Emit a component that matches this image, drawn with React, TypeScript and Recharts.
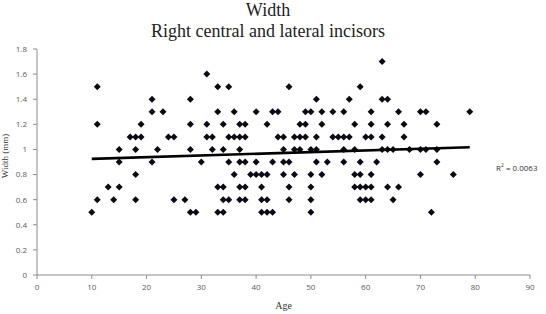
import React from 'react';
import { ScatterChart, Scatter, XAxis, YAxis, Label } from 'recharts';

// age -> widths measured at that age
const ages = [10, 11, 13, 14, 15, 17, 18, 19, 21, 22, 23, 24, 25, 27, 28, 29, 30, 31, 32, 33, 34, 35, 36, 37, 38, 39, 40, 41, 42, 43, 44, 45, 46, 47, 48, 49, 50, 51, 52, 53, 54, 55, 56, 57, 58, 59, 60, 61, 62, 63, 64, 65, 66, 67, 68, 70, 71, 72, 73, 76, 79];
const widths = [
    [0.5], [1.5, 1.2, 0.6], [0.7], [0.6], [1.0, 0.9, 0.7], [1.1], [1.1, 1.0, 0.8, 0.6], [1.2, 1.1],
    [1.4, 1.3, 0.9], [1.0], [1.3], [1.1], [1.1, 0.6], [0.6], [1.4, 1.2, 1.0, 0.5], [0.5], [0.9],
    [1.6, 1.2, 1.1], [1.1, 1.0], [1.5, 1.3, 0.7, 0.5], [1.2, 1.0, 0.7, 0.6, 0.5], [1.5, 1.1, 0.9, 0.6],
    [1.3, 1.1, 0.8], [1.2, 1.1, 1.0, 0.9, 0.7, 0.6], [1.2, 1.1, 0.9, 0.7, 0.6], [0.8], [1.3, 0.9, 0.8],
    [0.8, 0.7, 0.6, 0.5], [1.2, 0.8, 0.6, 0.5], [1.3, 0.9, 0.5], [1.3, 1.1], [1.1, 1.0, 0.9, 0.8],
    [1.5, 0.9, 0.7, 0.6], [1.1, 1.0, 0.8], [1.2, 1.1, 1.0], [1.3, 1.2, 1.1], [1.3, 1.0, 0.8, 0.7, 0.6, 0.5],
    [1.4, 1.1, 1.0, 0.9], [1.3, 1.2, 0.8], [0.9], [1.3, 1.1], [1.1], [1.3, 1.1, 1.0, 0.9], [1.4, 1.1],
    [1.2, 1.0, 0.8, 0.7], [1.5, 0.9, 0.8, 0.7, 0.6], [1.1, 0.7, 0.6], [1.3, 1.2, 1.1, 0.8, 0.7, 0.6],
    [0.9], [1.7, 1.4, 1.1, 1.0], [1.4, 1.2, 1.0, 0.7], [1.0, 0.6], [1.3, 0.7], [1.2, 1.1], [1.0],
    [1.3, 1.0, 0.8], [1.3, 1.0], [0.5], [1.2, 1.0, 0.9], [0.8], [1.3],
];
const trendAges = [10, 79];
const trendWidths = [0.925, 1.018];
const xTicks = [0, 10, 20, 30, 40, 50, 60, 70, 80, 90];
const yTicks = [0, 0.2, 0.4, 0.6, 0.8, 1, 1.2, 1.4, 1.6, 1.8];

const points = ages.flatMap((age, i) => widths[i].map((w) => ({ age, width: w })));
const trend = trendAges.map((age, i) => ({ age, width: trendWidths[i] }));

const Diamond = (props: any) => {
    const { cx, cy } = props;
    const r = 3.5;
    return <polygon points={`${cx},${cy - r} ${cx + r},${cy} ${cx},${cy + r} ${cx - r},${cy}`} fill="#0a0a14" />;
};

const tickStyle = { fontSize: 8, fill: '#595959', fontFamily: 'Open Sans, sans-serif' };

const App: React.FC = () => {
    return (
        <div style={{ position: 'absolute', left: 0, top: 0, width: 546, height: 314, background: '#fff', overflow: 'hidden' }}>
            <div style={{ position: 'absolute', left: 0, width: 536, top: 0, textAlign: 'center', fontFamily: 'Liberation Serif, serif', fontSize: 18, lineHeight: 'normal', color: '#222' }}>
                <div>Width</div>
                <div>Right central and lateral incisors</div>
            </div>
            <ScatterChart width={546} height={314} margin={{ top: 49, right: 16, left: 7, bottom: 19 }}>
                <XAxis
                    type="number"
                    dataKey="age"
                    domain={[0, 90]}
                    ticks={xTicks}
                    tick={tickStyle}
                    tickSize={4}
                    tickMargin={5}
                    stroke="#8c8c8c"
                    height={20}
                    allowDataOverflow
                >
                    <Label value="Age" position="insideBottom" offset={-14} style={{ fontSize: 10, fill: '#333', fontFamily: 'Liberation Serif, serif' }} />
                </XAxis>
                <YAxis
                    type="number"
                    dataKey="width"
                    domain={[0, 1.8]}
                    ticks={yTicks}
                    tick={tickStyle}
                    tickSize={4}
                    tickMargin={6}
                    stroke="#8c8c8c"
                    width={30}
                >
                    <Label value="Width (mm)" angle={-90} position="insideLeft" offset={-2} dy={-6} style={{ fontSize: 9, fill: '#333', fontFamily: 'Liberation Serif, serif', textAnchor: 'middle' }} />
                </YAxis>
                <Scatter data={points} shape={<Diamond />} isAnimationActive={false} />
                <Scatter data={trend} line={{ stroke: '#000', strokeWidth: 2.6 }} shape={() => <g />} isAnimationActive={false} />
            </ScatterChart>
            <div style={{ position: 'absolute', left: 496, top: 162, fontSize: 8, color: '#333', fontFamily: 'Open Sans, sans-serif', whiteSpace: 'nowrap' }}>
                R<sup style={{ fontSize: 5 }}>2</sup> = 0.0063
            </div>
        </div>
    );
};

export default App;
